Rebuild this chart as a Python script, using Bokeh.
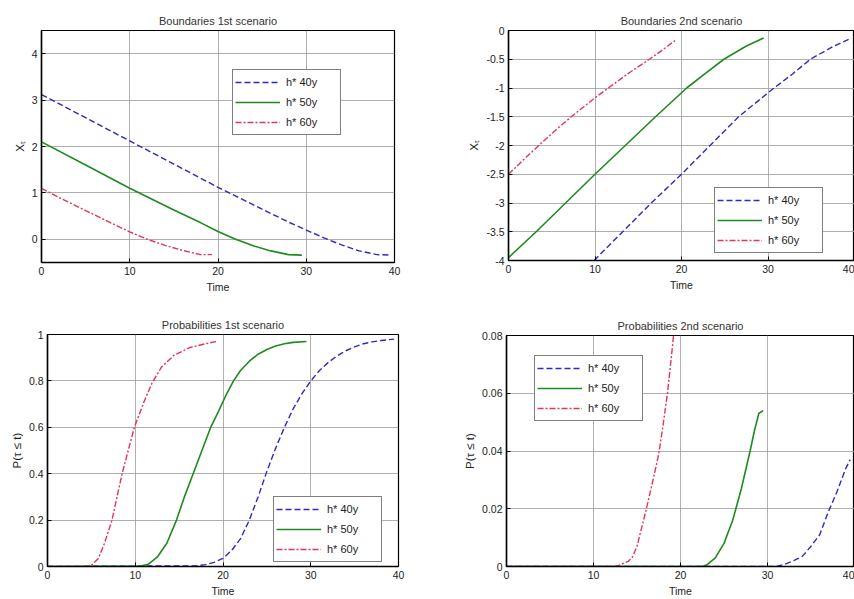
from bokeh.plotting import figure
from bokeh.layouts import column, row
from bokeh.models import FixedTicker, CustomJSTickFormatter, Range1d
from bokeh.embed import file_html
from bokeh.resources import INLINE

# ---------------- data ----------------
labels = ["h* 40y", "h* 50y", "h* 60y"]

# Boundaries 1st scenario
b1_t40 = [0, 5, 10, 15, 20, 25, 28, 30, 32, 34, 36, 38, 39.5]
b1_x40 = [3.12, 2.62, 2.12, 1.62, 1.12, 0.65, 0.37, 0.2, 0.03, -0.12, -0.25, -0.33, -0.34]
b1_t50 = [0, 5, 10, 15, 18, 20, 22, 24, 26, 28, 29.5]
b1_x50 = [2.1, 1.6, 1.1, 0.63, 0.36, 0.17, 0.0, -0.14, -0.25, -0.33, -0.34]
b1_t60 = [0, 2, 5, 8, 10, 12, 14, 16, 18, 19.3]
b1_x60 = [1.1, 0.9, 0.62, 0.34, 0.16, 0.0, -0.13, -0.24, -0.33, -0.33]

# Boundaries 2nd scenario
b2_t40 = [9.9, 13.2, 16.5, 20, 23.3, 26.6, 30.7, 32.8, 34.9, 37.5, 39.5]
b2_x40 = [-4.0, -3.5, -3.0, -2.5, -2.0, -1.5, -1.0, -0.76, -0.5, -0.28, -0.14]
b2_t50 = [0, 3.2, 6.6, 10, 13.5, 17, 20.6, 22.8, 24.9, 27.5, 29.5]
b2_x50 = [-3.95, -3.5, -3.0, -2.5, -2.0, -1.5, -1.0, -0.74, -0.5, -0.27, -0.13]
b2_t60 = [0, 2, 4, 6, 8, 10, 12, 14, 16, 17.7, 19.3]
b2_x60 = [-2.5, -2.21, -1.93, -1.66, -1.41, -1.17, -0.95, -0.73, -0.53, -0.35, -0.17]

# Probabilities 1st scenario
p1_t40 = [0, 17, 18, 19, 20, 21, 22, 23, 24, 25, 26, 27, 28, 29, 30, 31, 32, 33, 34, 35, 36, 37, 38, 39.5]
p1_p40 = [0, 0.003, 0.008, 0.018, 0.035, 0.07, 0.12, 0.2, 0.3, 0.41, 0.51, 0.6, 0.68, 0.745, 0.8, 0.845,
          0.88, 0.908, 0.93, 0.947, 0.96, 0.968, 0.974, 0.98]
p1_t50 = [0, 10.6, 11.5, 12.5, 13.6, 14.7, 15.6, 16.6, 17.6, 18.6, 19.5, 20.3, 21.2, 22, 23, 24, 25, 26,
          27, 28, 29.5]
p1_p50 = [0, 0.002, 0.01, 0.04, 0.1, 0.2, 0.3, 0.4, 0.5, 0.6, 0.67, 0.735, 0.8, 0.845, 0.885, 0.915,
          0.935, 0.95, 0.96, 0.966, 0.97]
p1_t60 = [0, 4.5, 5, 5.8, 6.5, 7.35, 8.5, 9.9, 11, 11.9, 13, 14.4, 16.25, 18, 19.3]
p1_p60 = [0, 0.0, 0.005, 0.035, 0.1, 0.2, 0.4, 0.6, 0.71, 0.79, 0.86, 0.91, 0.944, 0.96, 0.97]

# Probabilities 2nd scenario
p2_t40 = [0, 31, 32, 33, 34, 35, 36, 37, 38, 39, 39.5]
p2_p40 = [0, 0, 0.0008, 0.002, 0.0035, 0.007, 0.011, 0.019, 0.026, 0.034, 0.037]
p2_t50 = [0, 22.5, 23, 24, 25, 26, 27, 28, 28.5, 29, 29.5]
p2_p50 = [0, 0, 0.0005, 0.003, 0.008, 0.016, 0.027, 0.04, 0.047, 0.053, 0.054]
p2_t60 = [0, 12.5, 13, 14, 14.5, 15, 16, 17, 17.5, 18, 18.5, 19, 19.2]
p2_p60 = [0, 0, 0.0005, 0.0018, 0.0034, 0.007, 0.019, 0.032, 0.039, 0.049, 0.06, 0.074, 0.08]

x_ticks = [0, 10, 20, 30, 40]
b1_yticks = [0, 1, 2, 3, 4]
b2_yticks = [-4, -3.5, -3, -2.5, -2, -1.5, -1, -0.5, 0]
p1_yticks = [0, 0.2, 0.4, 0.6, 0.8, 1]
p2_yticks = [0, 0.02, 0.04, 0.06, 0.08]

# ---------------- styling ----------------
FONT = "Liberation Sans"
BLUE, GREEN, RED = "#2a2ac8", "#1f8a1f", "#e3345a"
styles = [dict(color=BLUE, line_dash="6 3", line_width=1.4),
          dict(color=GREEN, line_dash="solid", line_width=1.6),
          dict(color=RED, line_dash="6 2 2 2", line_width=1.4)]
fmt = CustomJSTickFormatter(code="return String(tick);")


def make_fig(title, height, borders, yr, yticks, ylabel, series, legend_loc):
    left, right, top, bottom = borders
    p = figure(width=427, height=height, output_backend="svg", toolbar_location=None,
               x_range=Range1d(0, 40), y_range=Range1d(*yr),
               min_border_left=left, min_border_right=right,
               min_border_top=top, min_border_bottom=bottom)
    p.background_fill_color = "white"
    p.border_fill_color = "white"
    p.outline_line_color = "black"
    p.outline_line_width = 1.2
    p.title.text = title
    p.title.align = "center"
    p.title.text_font = FONT
    p.title.text_font_size = "11px"
    p.title.text_font_style = "normal"
    p.title.text_color = "#333333"
    p.title.standoff = 7
    for ax, ticks in ((p.xaxis, x_ticks), (p.yaxis, yticks)):
        ax.ticker = FixedTicker(ticks=ticks)
        ax.formatter = fmt
        ax.major_tick_in = 4
        ax.major_tick_out = 0
        ax.minor_tick_line_color = None
        ax.axis_line_color = "black"
        ax.axis_line_width = 1.5
        ax.major_tick_line_color = "black"
        ax.major_label_text_font = FONT
        ax.major_label_text_font_size = "10.5px"
        ax.major_label_text_color = "#222222"
        ax.major_label_standoff = 4
        ax.axis_label_text_font = FONT
        ax.axis_label_text_font_size = "10.5px"
        ax.axis_label_text_font_style = "normal"
        ax.axis_label_text_color = "#222222"
        ax.axis_label_standoff = 3
    p.xaxis.axis_label = "Time"
    p.yaxis.axis_label = ylabel
    p.yaxis.axis_label_text_font_size = "11.5px"
    p.xgrid.grid_line_color = "#9a9a9a"
    p.ygrid.grid_line_color = "#9a9a9a"
    p.xgrid.grid_line_width = 0.8
    p.ygrid.grid_line_width = 0.8
    for (t, v), st, lab in zip(series, styles, labels):
        p.line(t, v, legend_label=lab, **st)
    lg = p.legend[0]
    lg.location = legend_loc
    lg.margin = 0
    lg.padding = 2
    lg.spacing = 0
    lg.glyph_width = 45
    lg.glyph_height = 20
    lg.label_height = 20
    lg.label_width = 52
    lg.label_standoff = 6
    lg.label_text_font = FONT
    lg.label_text_font_size = "11px"
    lg.label_text_color = "#222222"
    lg.border_line_color = "black"
    lg.border_line_width = 1.2
    lg.background_fill_color = "white"
    lg.background_fill_alpha = 1.0
    return p


f1 = make_fig("Boundaries 1st scenario", 300, (41, 33, 30, 38), (-0.5, 4.5), b1_yticks, "X\u209c",
              [(b1_t40, b1_x40), (b1_t50, b1_x50), (b1_t60, b1_x60)], (191, 127))
f2 = make_fig("Boundaries 2nd scenario", 300, (81, 0, 30, 40), (-4, 0), b2_yticks, "X\u209c",
              [(b2_t40, b2_x40), (b2_t50, b2_x50), (b2_t60, b2_x60)], (206, 7))
f3 = make_fig("Probabilities 1st scenario", 299, (47, 29, 34, 30), (0, 1), p1_yticks, "P(\u03c4 \u2264 t)",
              [(p1_t40, p1_p40), (p1_t50, p1_p50), (p1_t60, p1_p60)], (226, 4))
f4 = make_fig("Probabilities 2nd scenario", 299, (79, 0, 35, 30), (0, 0.08), p2_yticks, "P(\u03c4 \u2264 t)",
              [(p2_t40, p2_p40), (p2_t50, p2_p50), (p2_t60, p2_p60)], (28, 145))

layout = column(row(column(f1), column(f2), spacing=0),
                row(column(f3), column(f4), spacing=0), spacing=0)
open("out.html", "w").write(file_html(layout, INLINE))
